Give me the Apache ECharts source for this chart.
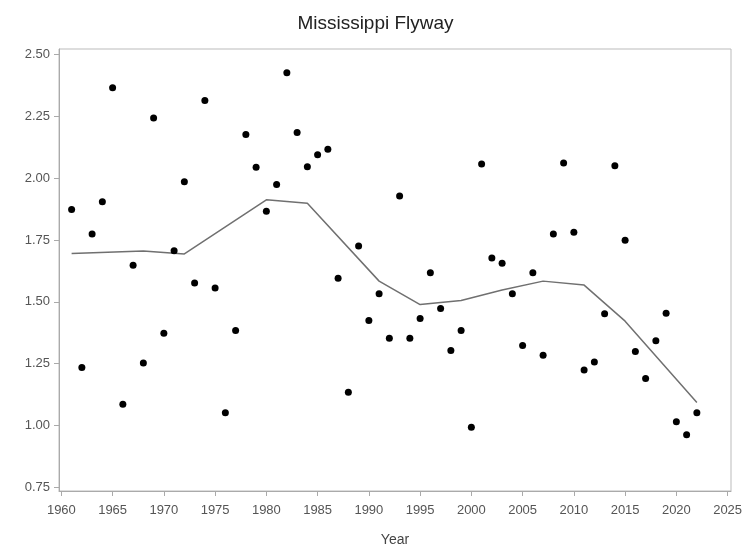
<!DOCTYPE html>
<html>
<head>
<meta charset="utf-8">
<script src="https://cdn.jsdelivr.net/npm/echarts@6/dist/echarts.min.js"></script>
<style>
html,body{margin:0;padding:0;background:#fff;}
#chart{width:751px;height:553px;}
</style>
</head>
<body>
<div id="chart"></div>
<script>
const years = [];
for (let y = 1961; y <= 2022; y++) years.push(y);
const values = [
  1.874, 1.235, 1.775, 1.905, 2.366, 1.086, 1.648, 1.253, 2.244, 1.373,
  1.707, 1.986, 1.576, 2.315, 1.556, 1.052, 1.384, 2.177, 2.045, 1.867,
  1.975, 2.427, 2.185, 2.047, 2.095, 2.117, 1.596, 1.134, 1.726, 1.425,
  1.533, 1.353, 1.928, 1.353, 1.433, 1.618, 1.473, 1.303, 1.384, 0.993,
  2.058, 1.678, 1.656, 1.533, 1.324, 1.618, 1.284, 1.775, 2.062, 1.782,
  1.224, 1.257, 1.452, 2.051, 1.749, 1.299, 1.190, 1.343, 1.454, 1.015,
  0.963, 1.052
];
const fitYears = [1961, 1968, 1972, 1980, 1984, 1991, 1995, 1999, 2003, 2007, 2011, 2015, 2022];
const fitValues = [1.696, 1.706, 1.694, 1.913, 1.899, 1.584, 1.489, 1.506, 1.548, 1.584, 1.568, 1.422, 1.093];
const xTicks = [1960,1965,1970,1975,1980,1985,1990,1995,2000,2005,2010,2015,2020,2025];
const yTicks = [0.75,1.00,1.25,1.50,1.75,2.00,2.25,2.50];

const chart = echarts.init(document.getElementById('chart'));
const font = 'Liberation Sans, Arial, sans-serif';
chart.setOption({
  animation: false,
  backgroundColor: '#fff',
  title: {
    text: 'Mississippi Flyway',
    left: 'center',
    top: 9,
    textStyle: {fontFamily: font, fontSize: 19, fontWeight: 'normal', color: '#222'}
  },
  grid: {
    left: 59, right: 20, top: 49, bottom: 62,
    show: true, borderColor: '#bbb', borderWidth: 1
  },
  xAxis: {
    type: 'value',
    min: 1959.77, max: 2025.33,
    name: 'Year', nameLocation: 'middle', nameGap: 42,
    nameTextStyle: {fontFamily: font, fontSize: 14, color: '#444'},
    axisLine: {show: true, lineStyle: {color: '#aaa', width: 1}},
    axisTick: {show: true, length: 5, customValues: xTicks, lineStyle: {color: '#aaa'}},
    axisLabel: {customValues: xTicks, fontFamily: font, fontSize: 13, color: '#555', margin: 13,
      formatter: v => String(Math.round(v))},
    splitLine: {show: false}
  },
  yAxis: {
    type: 'value',
    min: 0.735, max: 2.523,
    axisLine: {show: true, lineStyle: {color: '#aaa', width: 1}},
    axisTick: {show: true, length: 5, customValues: yTicks, lineStyle: {color: '#aaa'}},
    axisLabel: {customValues: yTicks, fontFamily: font, fontSize: 13, color: '#555', margin: 9,
      formatter: v => v.toFixed(2)},
    splitLine: {show: false}
  },
  series: [
    {
      type: 'line',
      data: fitYears.map((y, i) => [y, fitValues[i]]),
      symbol: 'none',
      lineStyle: {color: '#707070', width: 1.5},
      z: 2
    },
    {
      type: 'scatter',
      data: years.map((y, i) => [y, values[i]]),
      symbol: 'circle',
      symbolSize: 7,
      itemStyle: {color: '#000', opacity: 1},
      z: 3
    }
  ]
});
</script>
</body>
</html>
